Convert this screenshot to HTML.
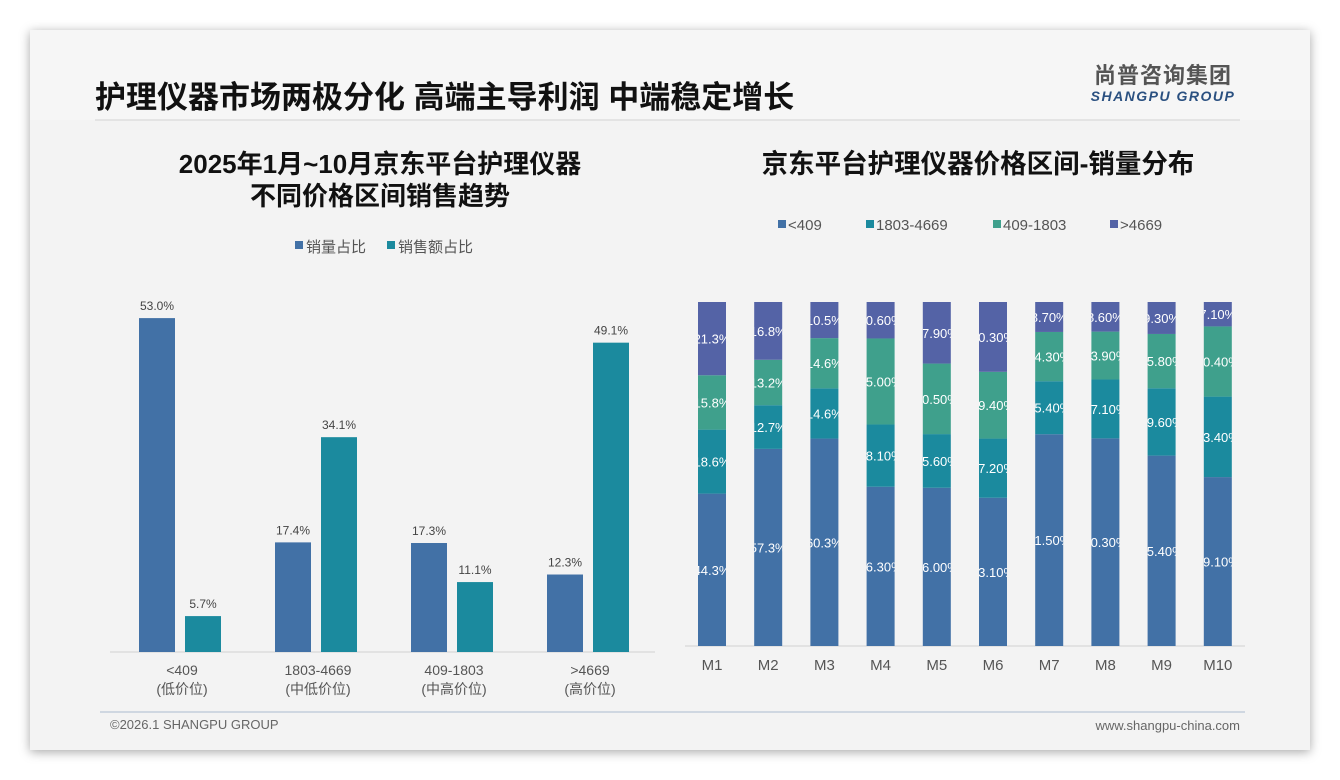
<!DOCTYPE html>
<html><head><meta charset="utf-8"><style>
body{margin:0;background:#fff;width:1340px;height:780px;overflow:hidden;font-family:"Liberation Sans","Noto Sans CJK SC",sans-serif}
#card{position:absolute;left:30px;top:30px;width:1280px;height:720px;background:#f3f3f3;box-shadow:0 2px 10px rgba(0,0,0,.35)}
svg{position:absolute;left:0;top:0}
</style></head><body>
<div id="card"></div>
<svg id="s" width="1340" height="780" font-family="Liberation Sans, Noto Sans CJK SC, sans-serif">
<rect x="30" y="30" width="1280" height="90" fill="#f6f6f6"/>
<text x="95" y="108" font-size="31" font-weight="bold" fill="#111">护理仪器市场两极分化 高端主导利润 中端稳定增长</text>
<line x1="95" y1="120" x2="1240" y2="120" stroke="#dedede" stroke-width="1.5"/>
<text x="1163" y="83" font-size="22" font-weight="bold" fill="#555" text-anchor="middle" letter-spacing="1">尚普咨询集团</text>
<text x="1163" y="101" font-size="14" font-weight="bold" font-style="italic" fill="#2a5080" text-anchor="middle" letter-spacing="1.5">SHANGPU GROUP</text>
<text x="380" y="173" font-size="26" font-weight="bold" fill="#111" text-anchor="middle">2025年1月~10月京东平台护理仪器</text>
<text x="380" y="205" font-size="26" font-weight="bold" fill="#111" text-anchor="middle">不同价格区间销售趋势</text>
<text x="978" y="173" font-size="26.5" font-weight="bold" fill="#111" text-anchor="middle">京东平台护理仪器价格区间-销量分布</text>
<rect x="295" y="241" width="8" height="8" fill="#4271A6"/>
<text x="306" y="252" font-size="15" fill="#555">销量占比</text>
<rect x="387" y="241" width="8" height="8" fill="#1B8A9E"/>
<text x="398" y="252" font-size="15" fill="#555">销售额占比</text>
<g id="left"></g>
<g id="right"></g>
<line x1="100" y1="712" x2="1245" y2="712" stroke="#c3cedb" stroke-width="1.5"/>
<text x="110" y="729" font-size="13" fill="#666">©2026.1 SHANGPU GROUP</text>
<text x="1240" y="730" font-size="13" fill="#666" text-anchor="end">www.shangpu-china.com</text>
</svg>
<script>
const NS="http://www.w3.org/2000/svg";
function mk(p,t,a){const e=document.createElementNS(NS,t);for(const k in a)e.setAttribute(k,a[k]);p.appendChild(e);return e;}
// Left chart data
const leftCats=["<409","1803-4669","409-1803",">4669"];
const leftSub=["(低价位)","(中低价位)","(中高价位)","(高价位)"];
const volShare=[53.0,17.4,17.3,12.3];
const salesShare=[5.7,34.1,11.1,49.1];
// Right chart data
const months=["M1","M2","M3","M4","M5","M6","M7","M8","M9","M10"];
const rightSeries=["<409","1803-4669","409-1803",">4669"];
const sLow=[44.3,57.3,60.3,46.3,46.0,43.1,61.5,60.3,55.4,49.1];
const sMidLow=[18.6,12.7,14.6,18.1,15.6,17.2,15.4,17.1,19.6,23.4];
const sMidHigh=[15.8,13.2,14.6,25.0,20.5,19.4,14.3,13.9,15.8,20.4];
const sHigh=[21.3,16.8,10.5,10.6,17.9,20.3,8.7,8.6,9.3,7.1];
const rightLabels=[
["44.3%","57.3%","60.3%","46.30%","46.00%","43.10%","61.50%","60.30%","55.40%","49.10%"],
["18.6%","12.7%","14.6%","18.10%","15.60%","17.20%","15.40%","17.10%","19.60%","23.40%"],
["15.8%","13.2%","14.6%","25.00%","20.50%","19.40%","14.30%","13.90%","15.80%","20.40%"],
["21.3%","16.8%","10.5%","10.60%","17.90%","20.30%","8.70%","8.60%","9.30%","7.10%"]];

const L=document.getElementById('left');
const lBase=652,lScale=6.3,lX0=180,lStep=136;
const ly=v=>lBase-v*lScale;
mk(L,'line',{x1:110,y1:lBase,x2:655,y2:lBase,stroke:'#d0d0d0','stroke-width':1});
leftCats.forEach((c,i)=>{
  const cx=lX0+i*lStep;
  [[volShare,'#4271A6',-41,'vol'],[salesShare,'#1B8A9E',5,'sales']].forEach(([arr,col,off,nm])=>{
    const r=mk(L,'rect',{x:cx+off,y:ly(arr[i]),width:36,height:arr[i]*lScale,fill:col});
    
    
    const t=mk(L,'text',{x:cx+off+18,y:ly(arr[i])-8,'font-size':12,fill:'#444','text-anchor':'middle'});
    t.textContent=arr[i].toFixed(1)+'%';
    
    
  });
  const t1=mk(L,'text',{x:cx+2,y:675,'font-size':14,fill:'#555','text-anchor':'middle'});t1.textContent=c;
  
  
  const t2=mk(L,'text',{x:cx+2,y:694,'font-size':14,fill:'#555','text-anchor':'middle'});t2.textContent=leftSub[i];
  
  
});

const R=document.getElementById('right');
const cols=['#4271A6','#1B8A9E','#3FA08C','#5463A6'];
const legX=[778,866,993,1110];
rightSeries.forEach((n,k)=>{
  const r=mk(R,'rect',{x:legX[k],y:220,width:8,height:8,fill:cols[k]});
  
  
  const t=mk(R,'text',{x:legX[k]+10,y:230,'font-size':15,fill:'#555'});t.textContent=n;
  
  
});
const rTop=302,rBase=646,rX0=712,rStep=56.2,bw=28;
mk(R,'line',{x1:685,y1:rBase,x2:1245,y2:rBase,stroke:'#d0d0d0','stroke-width':1});
const defs=mk(R,'defs',{});
const all=[sLow,sMidLow,sMidHigh,sHigh];
months.forEach((m,i)=>{
  const cx=rX0+i*rStep;
  const tot=all.reduce((s,a)=>s+a[i],0);
  const rs=(rBase-rTop)/tot;
  const cp=mk(defs,'clipPath',{id:'c'+i});
  mk(cp,'rect',{x:cx-bw/2,y:rTop-5,width:bw,height:rBase-rTop+10});
  let acc=0;
  all.forEach((arr,k)=>{
    const y0=rBase-acc*rs,h=arr[i]*rs;
    const r=mk(R,'rect',{x:cx-bw/2,y:y0-h,width:bw,height:h,fill:cols[k]});
    
    
    const t=mk(R,'text',{x:cx,y:y0-h/2+5,'font-size':13,fill:'#fff','text-anchor':'middle','clip-path':'url(#c'+i+')'});
    t.textContent=rightLabels[k][i];
    
    
    acc+=arr[i];
  });
  const t=mk(R,'text',{x:cx,y:670,'font-size':15,fill:'#555','text-anchor':'middle'});t.textContent=m;
  
  
});
</script>
</body></html>
